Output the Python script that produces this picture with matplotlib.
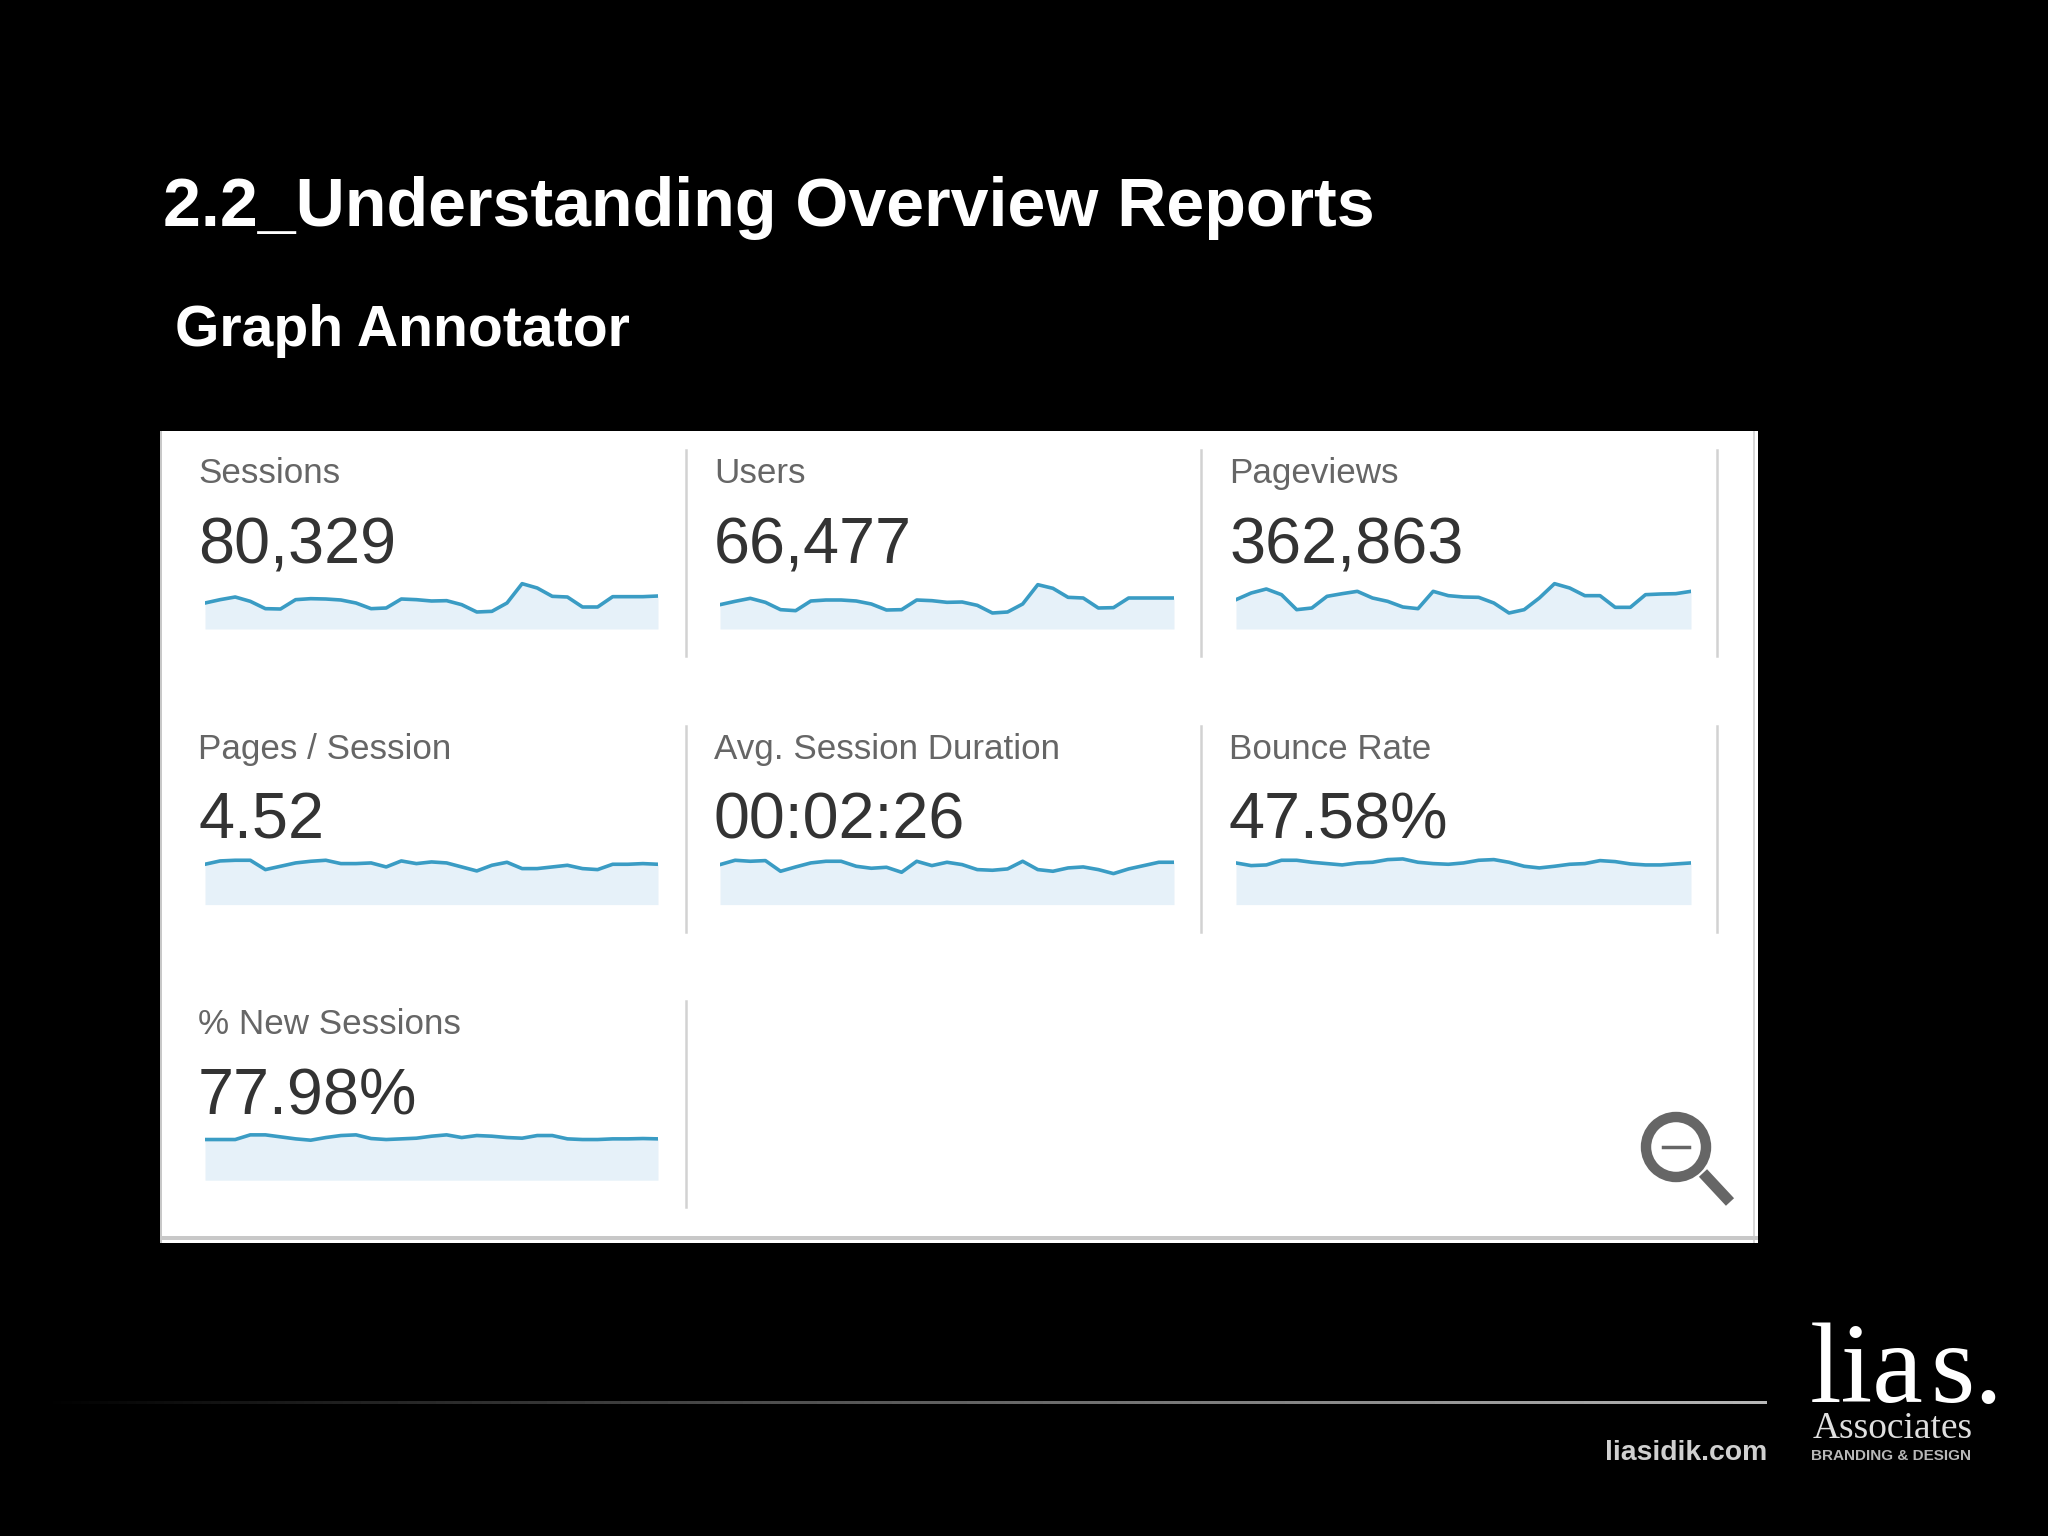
"""Overview report slide: seven sparkline panels on a black slide."""
import matplotlib
matplotlib.use("Agg")
import matplotlib.pyplot as plt
import numpy as np
from matplotlib.patches import Circle, Rectangle

W, H = 2048, 1536

labels = ["Sessions", "Users", "Pageviews", "Pages / Session",
          "Avg. Session Duration", "Bounce Rate", "% New Sessions"]
totals = ["80,329", "66,477", "362,863", "4.52", "00:02:26", "47.58%", "77.98%"]

# heights, one point per day
sessions = [78, 88, 96, 83, 61, 60, 88, 91, 90, 87, 78, 61, 63, 90, 88, 84,
            85, 73, 51, 53, 78, 136, 123, 98, 96, 66, 66, 97, 97, 97, 99]
users = [73, 83, 92, 80, 58, 55, 84, 87, 87, 84, 75, 57, 58, 87, 85, 80,
         81, 71, 48, 51, 75, 133, 122, 95, 93, 63, 64, 93, 93, 93, 93]
pageviews = [88, 108, 120, 103, 58, 63, 98, 106, 113, 93, 83, 66, 61, 113, 100, 96,
             95, 78, 48, 58, 93, 136, 123, 100, 100, 65, 65, 103, 105, 106, 113]
pages_session = [121, 131, 133, 133, 105, 115, 125, 130, 133, 123, 123, 125, 113, 131, 123, 128,
                 125, 113, 101, 118, 127, 108, 108, 113, 118, 108, 105, 121, 121, 123, 121]
avg_duration = [120, 133, 130, 132, 100, 113, 125, 130, 130, 115, 109, 112, 97, 130, 117, 127,
                120, 105, 103, 107, 130, 105, 100, 110, 113, 105, 93, 107, 117, 127, 127]
bounce_rate = [125, 117, 119, 133, 133, 127, 123, 119, 125, 127, 135, 137, 127, 123, 121, 125,
               133, 135, 127, 115, 110, 115, 121, 123, 132, 129, 122, 119, 119, 122, 125]
new_sessions = [122, 122, 122, 136, 136, 130, 124, 120, 128, 134, 136, 125, 122, 124, 126, 132,
                136, 128, 134, 132, 128, 126, 134, 134, 124, 122, 122, 124, 124, 125, 124]
series = [sessions, users, pageviews, pages_session, avg_duration, bounce_rate, new_sessions]

LINE = "#3a9cc4"
FILL = "#e6f1f9"
SANS = "Liberation Sans"
SERIF = "Liberation Serif"

col_x = [198, 714, 1229]
spark_x = [(205, 658), (720, 1174), (1236, 1691)]
sep_x = [686, 1201, 1717]
row_step = 275.6


def spark_axes(fig, x0, x1, base):
    # ylim is in thirds of a pixel, 70 px tall panel
    ax = fig.add_axes([x0 / W, 1 - base / H, (x1 - x0) / W, 70 / H])
    ax.set_xlim(0, 30)
    ax.set_ylim(0, 210)
    ax.axis("off")
    ax.patch.set_alpha(0)
    return ax


fig = plt.figure(figsize=(W / 100, H / 100), dpi=100, facecolor="black")
bg = fig.add_axes([0, 0, 1, 1])
bg.set_xlim(0, W)
bg.set_ylim(H, 0)
bg.axis("off")

bg.text(163, 226, "2.2_Understanding Overview Reports", color="white",
        fontsize=49.1, fontweight="bold", family=SANS)
bg.text(175, 346, "Graph Annotator", color="white",
        fontsize=41.1, fontweight="bold", family=SANS)

# white card
bg.add_patch(Rectangle((160, 431), 1598, 812, fc="white", ec="none"))
bg.add_patch(Rectangle((160, 431), 2, 812, fc="#c8c8c8", ec="none"))
bg.add_patch(Rectangle((1753, 431), 2, 812, fc="#d8d8d8", ec="none"))
bg.add_patch(Rectangle((160, 1236), 1598, 4, fc="#c8c8c8", ec="none"))

for i, (label, total, values) in enumerate(zip(labels, totals, series)):
    row, col = divmod(i, 3)
    dy = row * row_step
    bg.text(col_x[col], 483 + dy, label, color="#666666", fontsize=25.2, family=SANS)
    bg.text(col_x[col], 563 + dy, total, color="#333333", fontsize=46.6, family=SANS)
    bg.plot([sep_x[col]] * 2, [450 + dy, 656 + dy], color="#d2d2d2", lw=1.8)
    x0, x1 = spark_x[col]
    ax = spark_axes(fig, x0, x1, 629 + dy)
    days = np.arange(len(values))
    ax.fill_between(days, 0, values, color=FILL, lw=0)
    ax.plot(days, values, color=LINE, lw=2.6, solid_joinstyle="round")

# zoom-out icon
bg.add_patch(Circle((1676, 1147), 30, fc="none", ec="#666666", lw=7.5))
bg.plot([1703, 1730], [1173, 1202], color="#666666", lw=8, solid_capstyle="butt")
bg.plot([1663, 1689], [1147, 1147], color="#666666", lw=2.5)

# footer rule fades in from the left
fade = np.linspace(0, 0.72, 256).reshape(1, -1)
bg.imshow(fade, extent=(40, 1767, 1404, 1401), cmap="gray", vmin=0, vmax=1,
          aspect="auto", zorder=1)
bg.set_xlim(0, W)
bg.set_ylim(H, 0)

bg.text(1605, 1460, "liasidik.com", color="#d0d0d0", fontsize=20.4, family=SANS, fontweight="bold")
bg.text(1810, 1402, "lia", color="white", fontsize=82, family=SERIF)
bg.text(1930, 1402, "s.", color="white", fontsize=82, family=SERIF)
bg.text(1813, 1438, "Associates", color="#e0e0e0", fontsize=27, family=SERIF)
bg.text(1811, 1460, "BRANDING & DESIGN", color="#b8b8b8", fontsize=11, family=SANS, fontweight="bold")

fig.savefig("out.png", dpi=100, facecolor="black")
plt.close("all")
